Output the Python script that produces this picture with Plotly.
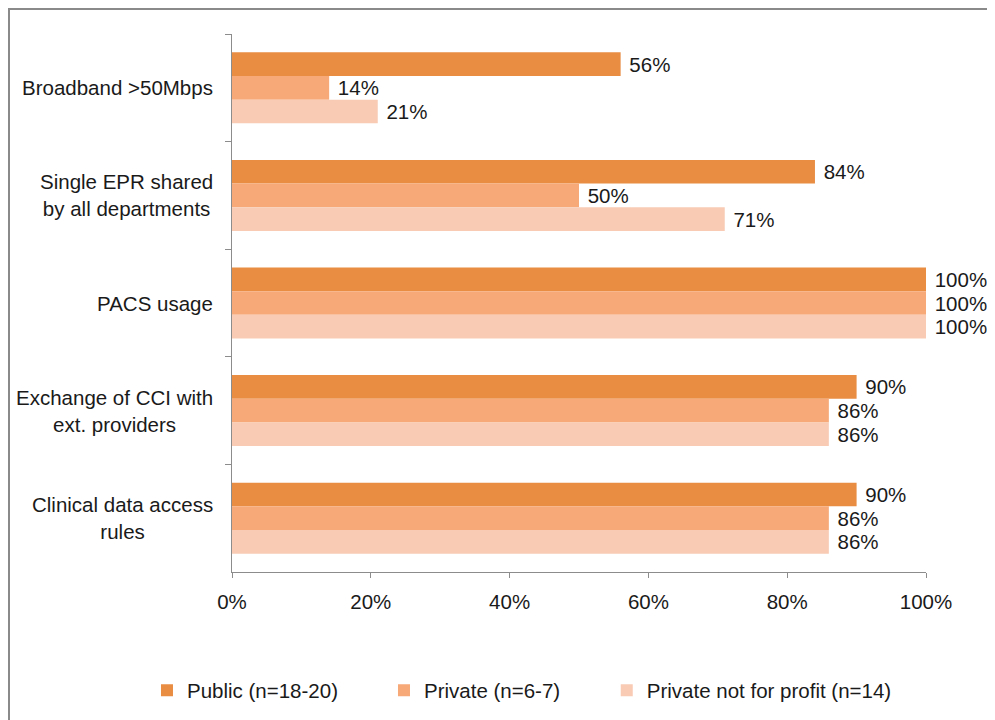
import plotly.graph_objects as go

categories = [
    "Broadband >50Mbps",
    "Single EPR shared<br>by all departments",
    "PACS usage",
    "Exchange of CCI with<br>ext. providers",
    "Clinical data access<br>rules",
]
series_names = ["Public (n=18-20)", "Private (n=6-7)", "Private not for profit (n=14)"]
public = [0.56, 0.84, 1.00, 0.90, 0.90]
private = [0.14, 0.50, 1.00, 0.86, 0.86]
private_npf = [0.21, 0.71, 1.00, 0.86, 0.86]
colors = ["#E98D43", "#F7A977", "#F9CBB4"]

font_family = "Liberation Sans, Arial, sans-serif"
text_color = "#1a1a1a"
axis_color = "#8c8c8c"
fsize = 20.5

# each series gets its own legend so the entries can sit where the original has them
legend_ids = ["legend", "legend2", "legend3"]
legend_x = [-0.1225, 0.219, 0.540]

fig = go.Figure()
for name, vals, col, lg in zip(series_names, [public, private, private_npf], colors, legend_ids):
    fig.add_trace(go.Bar(
        y=categories,
        x=vals,
        name=name,
        orientation="h",
        marker=dict(color=col, line=dict(width=0)),
        text=[f"\u00a0{v:.0%}" for v in vals],
        textposition="outside",
        textfont=dict(size=fsize, color=text_color, family=font_family),
        constraintext="none",
        cliponaxis=False,
        hoverinfo="x+name",
        legend=lg,
    ))

# category labels: block right-aligned, lines centred (as in the original)
for cat in categories:
    fig.add_annotation(
        x=-0.024, xref="paper", xanchor="right",
        y=cat, yref="y", yanchor="middle",
        text=cat, align="center", showarrow=False,
        font=dict(size=fsize, color=text_color, family=font_family),
    )

legend_common = dict(
    orientation="h",
    xanchor="left",
    y=-0.22, yanchor="middle",
    font=dict(size=fsize, color=text_color, family=font_family),
    bgcolor="rgba(0,0,0,0)",
)

fig.update_layout(
    width=995,
    height=720,
    margin=dict(l=224, r=77, t=26, b=156),
    barmode="group",
    bargap=0.34,
    bargroupgap=0,
    paper_bgcolor="white",
    plot_bgcolor="white",
    font=dict(family=font_family, size=fsize, color=text_color),
    showlegend=True,
    legend=dict(x=legend_x[0], **legend_common),
    legend2=dict(x=legend_x[1], **legend_common),
    legend3=dict(x=legend_x[2], **legend_common),
    shapes=[dict(
        type="rect", xref="paper", yref="paper",
        x0=(1 - 224) / 694, x1=1.3,
        y0=-0.5, y1=1 + 25 / 538,
        line=dict(color="#8a8a8a", width=2),
        layer="below",
    )],
)

fig.update_xaxes(
    range=[0, 1],
    tickvals=[0, 0.2, 0.4, 0.6, 0.8, 1.0],
    tickformat=".0%",
    showgrid=False,
    zeroline=False,
    showline=True,
    linecolor=axis_color,
    linewidth=1,
    ticks="outside",
    ticklen=5,
    tickcolor=axis_color,
    tickfont=dict(size=fsize, color=text_color),
    ticklabelstandoff=6,
)
fig.update_yaxes(
    autorange="reversed",
    showticklabels=False,
    showgrid=False,
    showline=True,
    linecolor=axis_color,
    linewidth=1,
    ticks="outside",
    tickson="boundaries",
    ticklen=6,
    tickcolor=axis_color,
)

fig.write_html("out.html")
